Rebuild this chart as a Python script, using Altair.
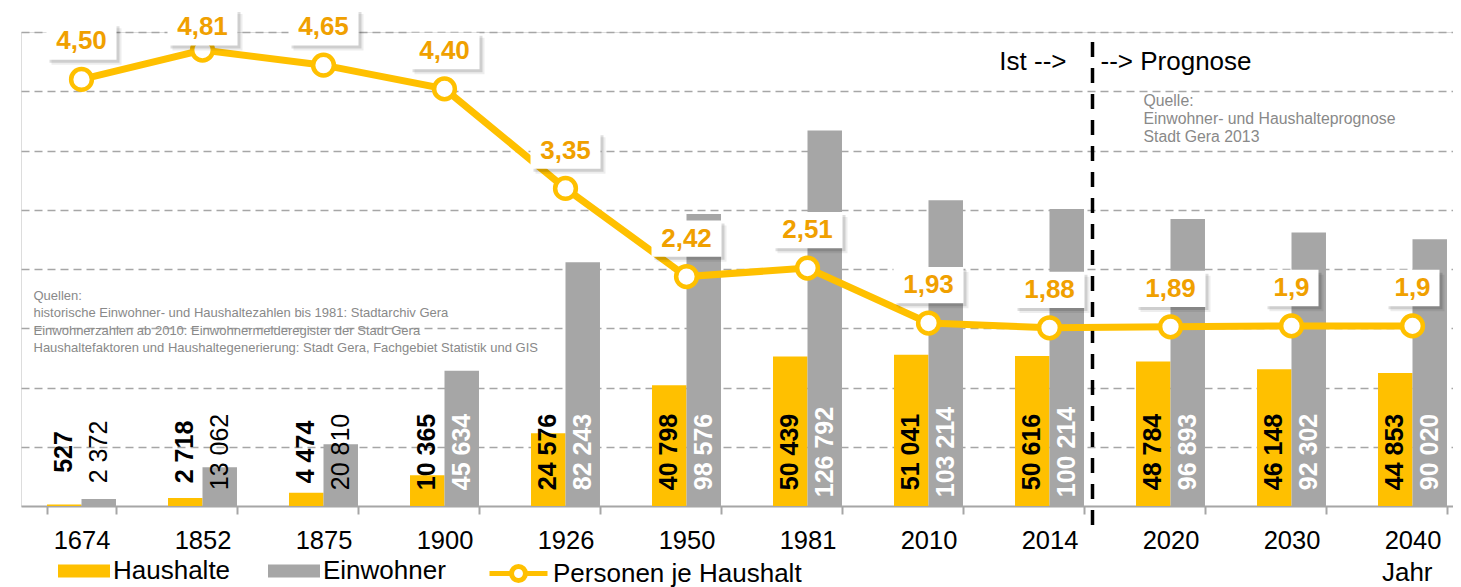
import altair as alt
import pandas as pd

years = ["1674", "1852", "1875", "1900", "1926", "1950", "1981", "2010", "2014", "2020", "2030", "2040"]
haushalte = [527, 2718, 4474, 10365, 24576, 40798, 50439, 51041, 50616, 48784, 46148, 44853]
einwohner = [2372, 13062, 20810, 45634, 82243, 98576, 126792, 103214, 100214, 96893, 92302, 90020]
personen = [4.50, 4.81, 4.65, 4.40, 3.35, 2.42, 2.51, 1.93, 1.88, 1.89, 1.9, 1.9]
personen_labels = ["4,50", "4,81", "4,65", "4,40", "3,35", "2,42", "2,51", "1,93", "1,88", "1,89", "1,9", "1,9"]
series = ["Haushalte", "Einwohner"]
colors = ["#FFC000", "#A6A6A6"]

FONT = "Liberation Sans"


def fmt(v):
    return f"{v:,}".replace(",", " ")


rows = []
for yr, h, e in zip(years, haushalte, einwohner):
    rows.append({"Jahr": yr, "Reihe": "Haushalte", "Wert": h, "Label": fmt(h)})
    rows.append({"Jahr": yr, "Reihe": "Einwohner", "Wert": e, "Label": fmt(e)})
bars_df = pd.DataFrame(rows)
line_df = pd.DataFrame({"Jahr": years, "Personen": personen, "Label": personen_labels,
                        "Serie": ["Personen je Haushalt"] * len(years)})
one = pd.DataFrame({"a": [0]})

x_full = alt.X("Jahr:N", sort=years,
               scale=alt.Scale(paddingInner=0.43, paddingOuter=0.215),
               axis=alt.Axis(title="Jahr", labelAngle=0, tickBand="extent", tickSize=8,
                             tickWidth=2, tickColor="#A6A6A6", domainColor="#A6A6A6",
                             domainWidth=2, labelFontSize=25.5, labelColor="black",
                             labelPadding=14, labelFont=FONT, grid=False,
                             titleFont=FONT, titleFontSize=26, titleFontWeight="normal",
                             titleColor="black", titleX=1411, titleY=66,
                             titleAlign="right", titleBaseline="middle"))
x_plain = alt.X("Jahr:N", sort=years)
xo = alt.XOffset("Reihe:N", sort=series, scale=alt.Scale(domain=series, paddingInner=0, paddingOuter=0))
yscale = alt.Scale(domain=[0, 160000], nice=False, zero=True)

bars = alt.Chart(bars_df).mark_bar().encode(
    x=x_full,
    xOffset=xo,
    y=alt.Y("Wert:Q", scale=yscale,
            axis=alt.Axis(title=None, labels=False, ticks=False, domain=False, grid=True,
                          values=[20000, 40000, 60000, 80000, 100000, 120000, 140000, 160000],
                          gridDash=[8, 5], gridColor="#A6A6A6", gridWidth=1.5)),
    color=alt.Color("Reihe:N", sort=series, scale=alt.Scale(domain=series, range=colors),
                    legend=alt.Legend(title=None, orient="none", legendX=37, legendY=513,
                                      direction="horizontal", symbolType="M-1,-0.25H1V0.25H-1Z",
                                      symbolSize=2704, symbolStrokeWidth=0, labelFontSize=26,
                                      labelFont=FONT, labelColor="black", labelOffset=3,
                                      columnPadding=37, padding=0)),
)

hh_text = alt.Chart(bars_df).transform_filter("datum.Reihe == 'Haushalte'").mark_text(
    angle=270, align="center", baseline="middle", fontSize=25, fontWeight="bold",
    color="black", yOffset=-54, font=FONT
).encode(x=x_plain, xOffset=xo, y=alt.datum(0), text="Label:N")

ew_small = alt.Chart(bars_df).transform_filter("datum.Reihe == 'Einwohner' && datum.Wert < 30000").mark_text(
    angle=270, align="center", baseline="middle", fontSize=25, fontWeight="normal",
    color="black", yOffset=-54, font=FONT
).encode(x=x_plain, xOffset=xo, y=alt.datum(0), text="Label:N")

ew_big = alt.Chart(bars_df).transform_filter("datum.Reihe == 'Einwohner' && datum.Wert >= 30000").mark_text(
    angle=270, align="center", baseline="middle", fontSize=25, fontWeight="bold",
    color="white", yOffset=-54, font=FONT
).encode(x=x_plain, xOffset=xo, y=alt.datum(0), text="Label:N")

divider = alt.Chart(one).mark_rule(strokeDash=[15, 11], strokeWidth=3.5, color="black", xOffset=43).encode(
    x=alt.datum("2014"), y=alt.datum(156600), y2=alt.datum(-8800))

ist = alt.Chart(one).mark_text(align="right", baseline="middle", fontSize=26, font=FONT,
                               color="black", xOffset=17).encode(
    x=alt.datum("2014"), y=alt.datum(149900), text=alt.value("Ist -->"))
prog = alt.Chart(one).mark_text(align="left", baseline="middle", fontSize=26, font=FONT,
                                color="black", xOffset=51).encode(
    x=alt.datum("2014"), y=alt.datum(149900), text=alt.value("--> Prognose"))

quelle = alt.Chart(one).mark_text(align="left", baseline="top", fontSize=15.8, font=FONT,
                                  color="#898989", xOffset=94, lineHeight=18).encode(
    x=alt.datum("2014"), y=alt.datum(139000),
    text=alt.value(["Quelle:", "Einwohner- und Haushalteprognose", "Stadt Gera 2013"]))

quellen = alt.Chart(one).mark_text(align="left", baseline="top", fontSize=13,
                                   font=FONT, color="#898989",
                                   xOffset=-48, lineHeight=17.5).encode(
    x=alt.datum("1674"), y=alt.datum(73000),
    text=alt.value(["Quellen:",
                    "historische Einwohner- und Haushaltezahlen bis 1981: Stadtarchiv Gera",
                    "Einwohnerzahlen ab 2010: Einwohnermelderegister der Stadt Gera",
                    "Haushaltefaktoren und Haushaltegenerierung: Stadt Gera, Fachgebiet Statistik und GIS"]))

bar_group = alt.layer(bars, hh_text, ew_small, ew_big, divider, ist, prog, quelle, quellen)

yline = alt.Scale(domain=[0, 5], nice=False, zero=True)
line_legend_symbol = "M-1,0H-0.24M0.24,0H1M-0.24,0A0.24,0.24,0,1,1,0.24,0A0.24,0.24,0,1,1,-0.24,0Z"

line = alt.Chart(line_df).mark_line(strokeWidth=7).encode(
    x=x_plain,
    y=alt.Y("Personen:Q", scale=yline, axis=None),
    stroke=alt.Stroke("Serie:N", scale=alt.Scale(range=["#FFC000"]),
                      legend=alt.Legend(title=None, orient="none", legendX=466, legendY=510,
                                        symbolType=line_legend_symbol, symbolSize=3364,
                                        symbolStrokeWidth=5, symbolFillColor="white",
                                        labelFontSize=26, labelFont=FONT, labelColor="black",
                                        labelOffset=3, labelLimit=400, padding=0)),
)

points = alt.Chart(line_df).mark_point(filled=True, fill="white", stroke="#FFC000", strokeWidth=4.5,
                                       size=430, opacity=1, shape="circle").encode(
    x=x_plain, y=alt.Y("Personen:Q", scale=yline, axis=None))

lab_base = alt.Chart(line_df).transform_calculate(
    LabelPos="min(datum.Personen + 0.40, 5.05)",
    boxshape="length(datum.Label) > 3 ? 'M-1,-0.52H1V0.52H-1Z' : 'M-1,-0.674H1V0.674H-1Z'",
    boxsize="length(datum.Label) > 3 ? 4900 : 2916",
)

shadow2 = lab_base.mark_point(filled=True, color="black", opacity=0.07, xOffset=5, yOffset=5, strokeWidth=0).encode(
    x=x_plain, y=alt.Y("LabelPos:Q", scale=yline, axis=None),
    shape=alt.Shape("boxshape:N", scale=None), size=alt.Size("boxsize:Q", scale=None))
shadow1 = lab_base.mark_point(filled=True, color="black", opacity=0.13, xOffset=3, yOffset=3, strokeWidth=0).encode(
    x=x_plain, y=alt.Y("LabelPos:Q", scale=yline, axis=None),
    shape=alt.Shape("boxshape:N", scale=None), size=alt.Size("boxsize:Q", scale=None))
boxes = lab_base.mark_point(filled=True, color="white", opacity=1, strokeWidth=0).encode(
    x=x_plain, y=alt.Y("LabelPos:Q", scale=yline, axis=None),
    shape=alt.Shape("boxshape:N", scale=None), size=alt.Size("boxsize:Q", scale=None))
labels = lab_base.mark_text(fontSize=26, fontWeight="bold", color="#F0A000", align="center",
                            baseline="middle", font=FONT).encode(
    x=x_plain, y=alt.Y("LabelPos:Q", scale=yline, axis=None), text="Label:N")

line_group = alt.layer(line, points, shadow2, shadow1, boxes, labels)

chart = alt.layer(bar_group, line_group).resolve_scale(y="independent").properties(
    width=1452, height=474,
    autosize=alt.AutoSizeParams(type="none"),
    padding={"left": 13, "top": 24, "right": -20, "bottom": 81},
).configure_view(stroke=None).configure(font=FONT)

chart.save("out.html", embed_options={"renderer": "svg", "actions": False})
